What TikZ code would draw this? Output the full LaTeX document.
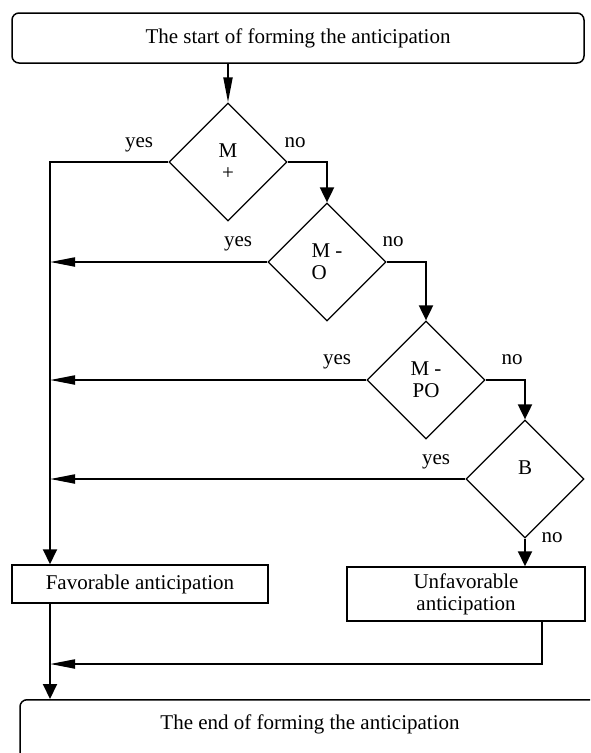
\documentclass[tikz,border=0pt]{standalone}
\usepackage{fontspec}
\setmainfont{Liberation Serif}
\usetikzlibrary{shapes.geometric,arrows.meta}

\tikzset{
  decision/.style={draw, diamond, line width=1.3pt, minimum width=118pt, minimum height=118pt, inner sep=0pt, align=center},
  block/.style={draw, rectangle, line width=1.5pt, align=center},
  vline/.style={draw, line width=2pt, -{Triangle[length=15pt,width=14pt]}},
  hline/.style={draw, line width=2pt, -{Triangle[length=25pt,width=9pt]}},
}

\begin{document}
\begin{tikzpicture}[x=1pt,y=-1pt,font=\fontsize{21}{22}\selectfont]
\clip (0,0) rectangle (590,753);
\node[block, rounded corners=7pt, minimum width=572pt, minimum height=50pt] (start) at (298,38) {The start of forming the anticipation};
\node[decision] (d1) at (228,162) {M\\+};
\node[decision, align=left] (d2) at (327,262) {M -\\O};
\node[decision] (d3) at (426,380) {M -\\PO};
\node[decision, text depth=22pt] (d4) at (525,479) {B};
\node[block, minimum width=256pt, minimum height=38pt] (fav) at (140,584) {Favorable anticipation};
\node[block, minimum width=238pt, minimum height=54pt] (unfav) at (466,594) {Unfavorable\\anticipation};
\node[block, rounded corners=7pt, anchor=north, minimum width=580pt, minimum height=76pt, text height=14pt, text depth=30pt, inner ysep=0pt] (end) at (310,699) {The end of forming the anticipation};

\node (y1) at (139,145) {yes};
\node (n1) at (295,143) {no};
\node (y2) at (238,244) {yes};
\node (n2) at (393,242) {no};
\node (y3) at (337,362) {yes};
\node (n3) at (512,360) {no};
\node (y4) at (436,462) {yes};
\node (n4) at (552,538) {no};

\coordinate (trunk) at (50,162);
\coordinate (back) at (542,664);

\path[hline] (d1 |- start.south) -- (d1.north);
\path[vline] (d1.west) -- (trunk) -- (trunk |- fav.north);
\path[vline] (d1.east) -| (d2.north);
\path[hline] (d2.west) -- (trunk |- d2.west);
\path[vline] (d2.east) -| (d3.north);
\path[hline] (d3.west) -- (trunk |- d3.west);
\path[vline] (d3.east) -| (d4.north);
\path[hline] (d4.west) -- (trunk |- d4.west);
\path[vline] (d4.south) -- (d4.south |- unfav.north);
\path[vline] (trunk |- fav.south) -- (trunk |- end.north);
\path[hline] (back |- unfav.south) -- (back) -- (trunk |- back);
\end{tikzpicture}
\end{document}
